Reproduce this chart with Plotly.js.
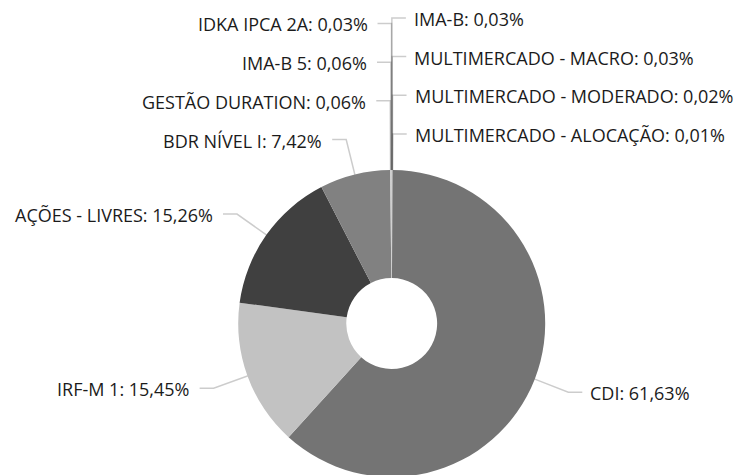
<!DOCTYPE html>
<html><head><meta charset="utf-8">
<script src="https://cdn.plot.ly/plotly-3.0.1.min.js"></script>
<style>html,body{margin:0;padding:0;overflow:hidden;background:#fff}#chart{width:737px;height:480px}</style>
</head><body><div id="chart"></div>
<script>
// ---- data ----
const categories = ['IMA-B','MULTIMERCADO - MACRO','MULTIMERCADO - MODERADO','MULTIMERCADO - ALOCAÇÃO','CDI','IRF-M 1','AÇÕES - LIVRES','BDR NÍVEL I','GESTÃO DURATION','IMA-B 5','IDKA IPCA 2A'];
const values = [0.03, 0.03, 0.02, 0.01, 61.63, 15.45, 15.26, 7.42, 0.06, 0.06, 0.03];
const sliceColors = ['#c8c8c8','#b4b4b4','#a8a8a8','#9c9c9c','#747474','#c2c2c2','#404040','#818181','#cfcfcf','#bdbdbd','#b0b0b0'];

// ---- geometry (layout) ----
const W = 737, H = 480;
const CX = 391.7, CY = 323.5, R = 153.5;
const LEN1 = 36, LEN2 = 14, GAP_L = 9, GAP_R = 7, SPACING = 38.7;

const total = values.reduce((a, b) => a + b, 0);
const fmt = v => v.toFixed(2).replace('.', ',') + '%';

// compute label anchors from slice angles
let cum = 0;
const items = values.map((v, i) => {
  const mid = (cum + v / 2) / total * 2 * Math.PI;
  cum += v;
  const sx = CX + R * Math.sin(mid), sy = CY - R * Math.cos(mid);
  const ex = CX + (R + LEN1) * Math.sin(mid), ey = CY - (R + LEN1) * Math.cos(mid);
  const right = Math.sin(mid) >= 0;
  return {i, sx, sy, ex, ey, ly: ey, right};
});
// avoid overlap on each side: push labels upward from the bottom
[true, false].forEach(side => {
  const grp = items.filter(d => d.right === side).sort((a, b) => b.ey - a.ey);
  for (let k = 1; k < grp.length; k++) {
    grp[k].ly = Math.min(grp[k].ly, grp[k - 1].ly - SPACING);
  }
});

const px = x => x / W, py = y => 1 - y / H;
const shapes = [], annotations = [];
items.forEach(d => {
  const dir = d.right ? 1 : -1;
  const hx = d.ex + dir * LEN2;
  shapes.push({
    type: 'path', xref: 'paper', yref: 'paper',
    path: `M${px(d.sx)},${py(d.sy)} L${px(d.ex)},${py(d.ly)} L${px(hx)},${py(d.ly)}`,
    line: {color: 'rgba(0,0,0,0.2)', width: 1.5}
  });
  annotations.push({
    xref: 'paper', yref: 'paper',
    x: px(hx + dir * (d.right ? GAP_R : GAP_L)), y: py(d.ly + 1),
    xanchor: d.right ? 'left' : 'right', yanchor: 'middle',
    text: categories[d.i] + ': ' + fmt(values[d.i]),
    showarrow: false, borderpad: 0,
    font: {family: 'Open Sans', size: 18, color: '#1b1b1b'}
  });
});

const trace = {
  type: 'pie',
  labels: categories,
  values: values,
  sort: false,
  direction: 'clockwise',
  rotation: 0,
  hole: 0.296,
  textinfo: 'none',
  hoverinfo: 'skip',
  showlegend: false,
  marker: {colors: sliceColors, line: {width: 0}},
  domain: {x: [(CX - R) / W, (CX + R) / W], y: [1 - (CY + R) / H, 1 - (CY - R) / H]}
};

Plotly.newPlot('chart', [trace], {
  width: W, height: H,
  margin: {l: 0, r: 0, t: 0, b: 0},
  paper_bgcolor: '#fff',
  shapes: shapes,
  annotations: annotations,
  font: {family: 'Open Sans'}
}, {displayModeBar: false, staticPlot: true});
</script>
</body></html>
